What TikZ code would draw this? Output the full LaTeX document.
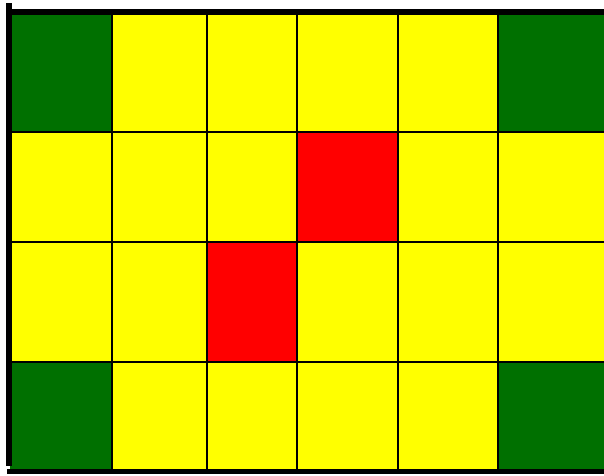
\documentclass[tikz,border=0pt]{standalone}
\definecolor{cgreen}{RGB}{0,112,0}
\definecolor{cyellow}{RGB}{255,255,0}
\definecolor{cred}{RGB}{255,0,0}
\tikzset{
  cell/.style={line width=2pt, draw=black},
  border/.style={line width=6pt, draw=black}
}
\begin{document}
\begin{tikzpicture}[x=1pt,y=-1pt]
\useasboundingbox (0,0) rectangle (604,475);
\fill[white] (0,0) rectangle (604,475);
\def\xs{{10,112,207,297,398,498,606}}
\def\ys{{12,132,242,362,472}}
\foreach \row [count=\r from 0] in {{cgreen,cyellow,cyellow,cyellow,cyellow,cgreen},{cyellow,cyellow,cyellow,cred,cyellow,cyellow},{cyellow,cyellow,cred,cyellow,cyellow,cyellow},{cgreen,cyellow,cyellow,cyellow,cyellow,cgreen}}{
  \foreach \col [count=\c from 0] in \row {
    \pgfmathsetmacro{\xa}{\xs[\c]}
    \pgfmathsetmacro{\xb}{\xs[\c+1]}
    \pgfmathsetmacro{\ya}{\ys[\r]}
    \pgfmathsetmacro{\yb}{\ys[\r+1]}
    \fill[\col] (\xa,\ya) rectangle (\xb,\yb);
  }
}
\foreach \x in {112,207,297,398,498}{\draw[cell] (\x,12) -- (\x,472);}
\foreach \y in {132,242,362}{\draw[cell] (10,\y) -- (606,\y);}
\draw[border] (9,3) -- (9,466);
\draw[border] (6,12) -- (606,12);
\draw[line width=5pt] (7,471) -- (606,471);
\end{tikzpicture}
\end{document}
